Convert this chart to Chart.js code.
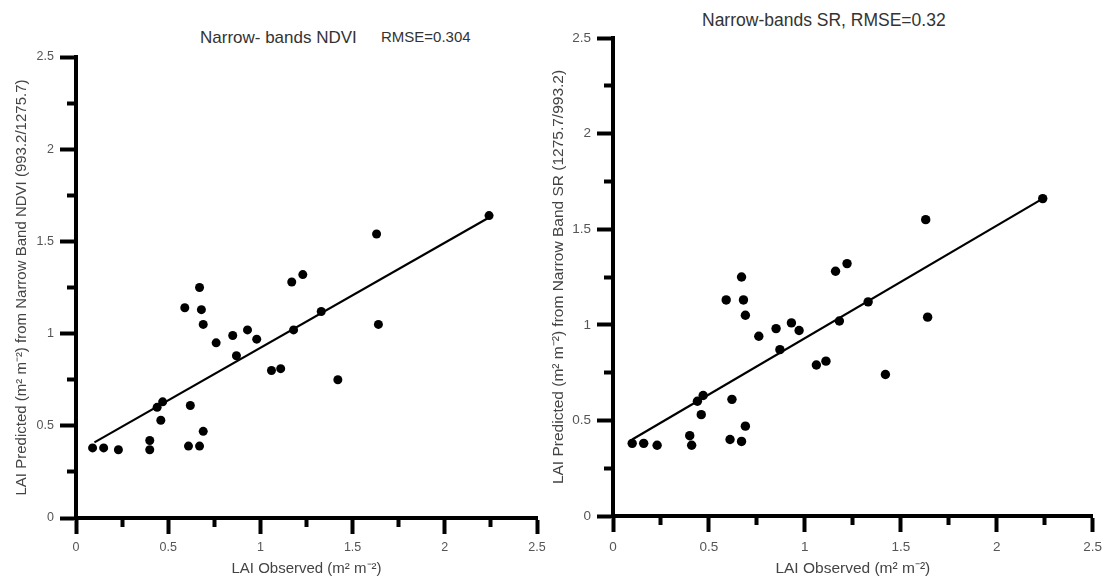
<!DOCTYPE html>
<html lang="en">
<head>
<meta charset="UTF-8">
<title>LAI predicted vs observed</title>
<script src="https://cdn.jsdelivr.net/npm/chart.js"></script>
<style>
  body { margin: 0; background: #fff; width: 1109px; height: 578px; position: relative; overflow: hidden;
         font-family: "Liberation Sans", Arial, sans-serif; }
  canvas { position: absolute; top: 0; }
  .title { position: absolute; color: #333; white-space: nowrap; }
</style>
</head>
<body>
<div class="title" style="left:200px;top:28px;font-size:17px;line-height:20px;">Narrow- bands NDVI</div>
<div class="title" style="left:381px;top:28px;font-size:15px;line-height:18px;">RMSE=0.304</div>
<div class="title" style="left:702px;top:10px;font-size:17.5px;line-height:20px;">Narrow-bands SR, RMSE=0.32</div>
<canvas id="ndviChart" width="555" height="578" style="left:0"></canvas>
<canvas id="srChart" width="569" height="578" style="left:540px"></canvas>
<script>
    const FONT = '"Liberation Sans", Arial, sans-serif';

    // axis ticks (both charts)
    const tickValues = [0, 0.5, 1, 1.5, 2, 2.5];
    const tickLabels = ['0', '0.5', '1', '1.5', '2', '2.5'];
    const minorTickValues = [0.25, 0.75, 1.25, 1.75, 2.25];

    // narrow-band NDVI: observed vs predicted LAI
    const ndviObserved  = [0.09, 0.15, 0.23, 0.40, 0.40, 0.44, 0.47, 0.46, 0.59, 0.61, 0.62, 0.67, 0.68, 0.67, 0.69, 0.69,
                           0.76, 0.85, 0.87, 0.93, 0.98, 1.06, 1.11, 1.17, 1.18, 1.23, 1.33, 1.42, 1.63, 1.64, 2.24];
    const ndviPredicted = [0.38, 0.38, 0.37, 0.42, 0.37, 0.60, 0.63, 0.53, 1.14, 0.39, 0.61, 1.25, 1.13, 0.39, 1.05, 0.47,
                           0.95, 0.99, 0.88, 1.02, 0.97, 0.80, 0.81, 1.28, 1.02, 1.32, 1.12, 0.75, 1.54, 1.05, 1.64];
    const ndviFitX = [0.10, 2.24];
    const ndviFitY = [0.41, 1.63];

    // narrow-band SR: observed vs predicted LAI
    const srObserved  = [0.10, 0.16, 0.23, 0.40, 0.41, 0.44, 0.47, 0.46, 0.59, 0.61, 0.62, 0.67, 0.68, 0.67, 0.69, 0.69,
                         0.76, 0.85, 0.87, 0.93, 0.97, 1.06, 1.11, 1.16, 1.18, 1.22, 1.33, 1.42, 1.64, 1.63, 2.24];
    const srPredicted = [0.38, 0.38, 0.37, 0.42, 0.37, 0.60, 0.63, 0.53, 1.13, 0.40, 0.61, 1.25, 1.13, 0.39, 1.05, 0.47,
                         0.94, 0.98, 0.87, 1.01, 0.97, 0.79, 0.81, 1.28, 1.02, 1.32, 1.12, 0.74, 1.04, 1.55, 1.66];
    const srFitX = [0.10, 2.24];
    const srFitY = [0.40, 1.66];

    const xTitle = 'LAI Observed (m\u00B2 m\u207B\u00B2)';
    const ndviYTitle = 'LAI Predicted (m\u00B2 m\u207B\u00B2) from Narrow Band NDVI (993.2/1275.7)';
    const srYTitle = 'LAI Predicted (m\u00B2 m\u207B\u00B2) from Narrow Band SR (1275.7/993.2)';

    function setTicks(values) {
        return scale => { scale.ticks = values.map(v => ({ value: v })); };
    }
    function tickLabel(value) {
        const i = tickValues.indexOf(value);
        return i >= 0 ? tickLabels[i] : '';
    }

    function buildChart(id, obs, pred, fitX, fitY, yTitle, g) {
        const tickFont = { family: FONT, size: g.tickSize };
        const titleFont = { family: FONT, size: g.titleSize };
        const minorAxis = (pos, vals) => ({
            type: 'linear', position: pos, min: 0, max: 2.5,
            afterBuildTicks: setTicks(vals),
            grid: { drawOnChartArea: false, tickLength: 9, tickWidth: 4, tickColor: '#000' },
            border: { display: false },
            ticks: { display: false }
        });

        return new Chart(document.getElementById(id), {
            type: 'scatter',
            data: {
                datasets: [{
                    data: obs.map((x, i) => ({ x: x, y: pred[i] })),
                    pointRadius: g.dot,
                    backgroundColor: '#000',
                    borderWidth: 0,
                    xAxisID: 'x', yAxisID: 'y'
                }, {
                    type: 'line',
                    data: fitX.map((x, i) => ({ x: x, y: fitY[i] })),
                    borderColor: '#000',
                    borderWidth: 2.2,
                    pointRadius: 0,
                    fill: false,
                    xAxisID: 'x', yAxisID: 'y'
                }]
            },
            options: {
                responsive: false,
                animation: false,
                layout: { padding: { left: 0, top: g.top, right: g.width - g.right, bottom: 0 } },
                plugins: { legend: { display: false }, tooltip: { enabled: false } },
                scales: {
                    x: {
                        type: 'linear', position: 'bottom', min: 0, max: 2.5,
                        afterBuildTicks: setTicks(tickValues),
                        afterFit: s => { s.height = g.height - g.bottom; },
                        grid: { drawOnChartArea: false, tickLength: 16, tickWidth: 4, tickColor: '#000' },
                        border: { display: true, color: '#000', width: 4 },
                        ticks: { color: '#555', font: tickFont, padding: g.xTickPad, maxRotation: 0, callback: tickLabel },
                        title: { display: true, text: xTitle, color: '#444', font: titleFont, padding: { top: 0, bottom: 0 } }
                    },
                    y: {
                        type: 'linear', position: 'left', min: 0, max: 2.5,
                        afterBuildTicks: setTicks(tickValues),
                        afterFit: s => { s.width = g.left; },
                        grid: { drawOnChartArea: false, tickLength: 16, tickWidth: 4, tickColor: '#000' },
                        border: { display: true, color: '#000', width: 4 },
                        ticks: { color: '#555', font: tickFont, padding: g.yTickPad, callback: tickLabel },
                        title: { display: true, text: yTitle, color: '#444', font: titleFont, padding: { top: g.yTitlePad, bottom: 0 } }
                    },
                    xm: minorAxis({ y: 0 }, minorTickValues),
                    ym: minorAxis({ x: 0 }, minorTickValues)
                }
            }
        });
    }

    buildChart('ndviChart', ndviObserved, ndviPredicted, ndviFitX, ndviFitY, ndviYTitle, {
        width: 555, height: 578, left: 76, right: 537, top: 57, bottom: 518,
        tickSize: 12.5, titleSize: 15, dot: 4.5, xTickPad: 6, yTickPad: 6, yTitlePad: 13
    });

    buildChart('srChart', srObserved, srPredicted, srFitX, srFitY, srYTitle, {
        width: 569, height: 578, left: 73, right: 554, top: 38, bottom: 516,
        tickSize: 13.5, titleSize: 15.5, dot: 4.7, xTickPad: 7, yTickPad: 6, yTitlePad: 9
    });
</script>
</body>
</html>
